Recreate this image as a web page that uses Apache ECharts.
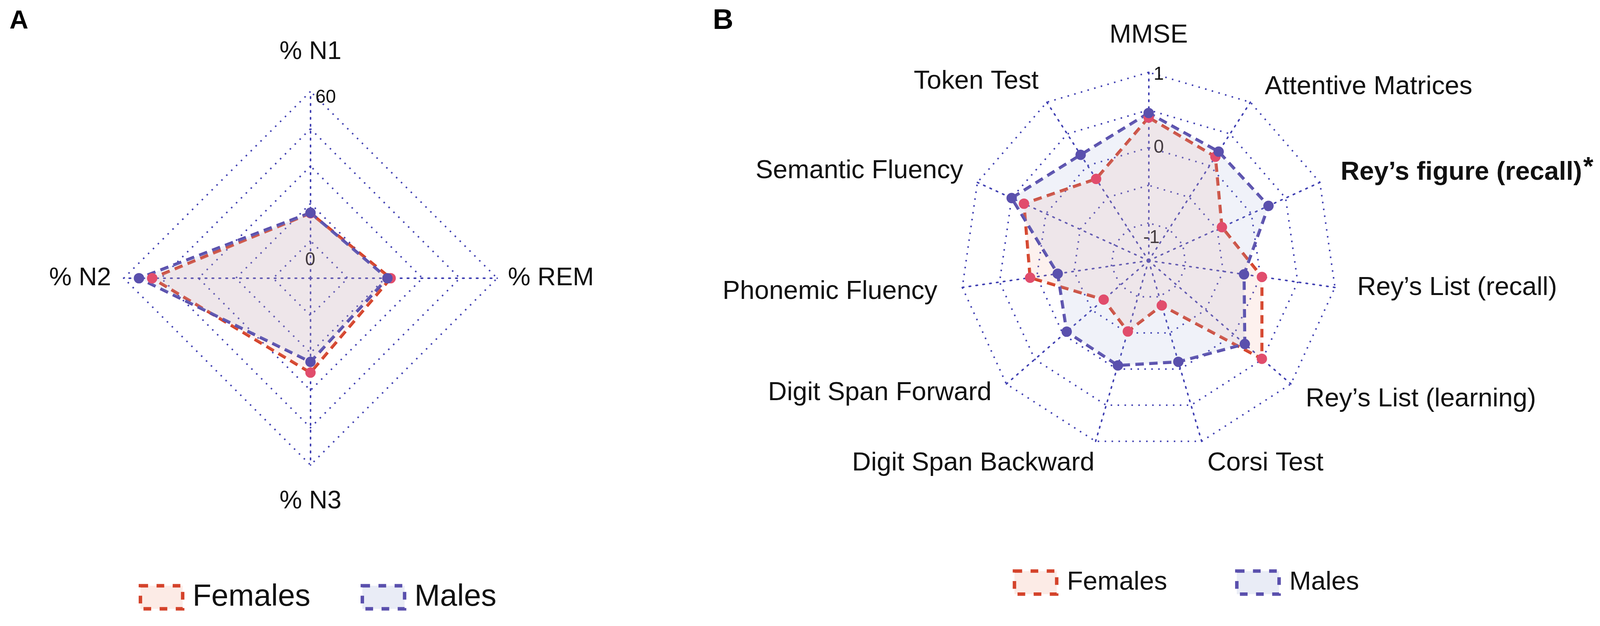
<!DOCTYPE html>
<html><head><meta charset="utf-8">
<script src="https://cdn.jsdelivr.net/npm/echarts/dist/echarts.min.js"></script>
<style>html,body{margin:0;padding:0;background:#fff;overflow:hidden}#c{width:100vw;height:100vh}</style>
</head><body><div id="c"></div>
<script>
// Panel A: sleep architecture (%)
const sleepAxes = ['% N1', '% N2', '% N3', '% REM'];
const sleepFemales = [11.1, 48.6, 22.9, 17.2];
const sleepMales = [11.3, 53.9, 18.6, 15.9];
const sleepMin = -15, sleepMax = 60;
const sleepTickLabels = [0, 60];

// Panel B: cognitive z-scores
const cogAxes = ['MMSE', 'Token Test', 'Semantic Fluency', 'Phonemic Fluency', 'Digit Span Forward',
  'Digit Span Backward', 'Corsi Test', 'Rey’s List (learning)', 'Rey’s List (recall)',
  'Rey’s figure (recall)', 'Attentive Matrices'];
const cogFemales = [0.40, -0.21, 0.32, 0.09, -0.71, -0.52, -0.88, 0.49, 0.02, -0.43, 0.14];
const cogMales = [0.46, 0.17, 0.50, -0.28, -0.06, -0.05, -0.10, 0.19, -0.22, 0.25, 0.22];
const cogMin = -1.5, cogMax = 1;
const cogTickLabels = [-1, 0, 1];
const cogSignificant = ['Rey’s figure (recall)'];

const groups = ['Females', 'Males'];

// ---- layout / style (reference frame 4236 x 1602) ----
const el = document.getElementById('c');
const chart = echarts.init(el, null, { renderer: 'canvas' });
const W = chart.getWidth(), H = chart.getHeight();
const sx = W / 4236, sy = H / 1602, s = (sx + sy) / 2;
const X = v => v * sx, Y = v => v * sy, S = v => v * s;

const FONT = '"Liberation Sans", Arial, sans-serif';
const gridColor = '#3f3fb2';
const grp = {
  Females: { line: '#d4432b', point: '#e14d6c', fill: 'rgba(245,165,145,0.22)', legendFill: '#fcebe6' },
  Males: { line: '#5a50ad', point: '#5a50ad', fill: 'rgba(155,170,218,0.22)', legendFill: '#e9ecf6' }
};
// per-axis name padding [top, right, bottom, left] (label placement tweaks)
const sleepNamePad = [[0, 0, 60, 0], [0, 23, 0, 0], [52, 0, 0, 0], [0, 0, 0, 18]];
const cogNamePad = [[0, 0, 52, 0], [0, 16, 92, 0], [0, 28, 52, 0], [20, 55, 0, 0], [34, 31, 0, 0],
  [96, 0, 0, 0], [96, 0, 0, 12], [66, 0, 0, 31], [0, 0, 0, 48], [12, 0, 56, 45], [0, 0, 62, 32]];
// per-tick-label padding [top, left]
const sleepTickPad = [[100, 0], [32, 27]];
const cogTickPad = [[78, 0], [0, 27], [12, 27]];

function indicators(names, min, max) {
  return names.map((n, i) => i === 0
    ? { name: n, min: min, max: max, axisLabel: { show: true } }
    : { name: n, min: min, max: max });
}
function radarBase(center, radius, nameSize, names, pads, bold, ticks, tickPads) {
  const rich = {};
  names.forEach((n, i) => {
    rich['n' + i] = {
      fontSize: S(nameSize), fontFamily: FONT, color: '#111',
      fontWeight: bold.indexOf(n) >= 0 ? 'bold' : 'normal',
      verticalAlign: 'top',
      padding: pads[i].map(S)
    };
  });
  rich.s = { fontSize: S(nameSize), fontFamily: FONT, color: '#111', fontWeight: 'bold', verticalAlign: 'top', padding: [0, 0, 0, S(3)] };
  const tickRich = {};
  ticks.forEach((t, i) => {
    tickRich['t' + i] = { fontSize: S(48), fontFamily: FONT, color: '#111', padding: [S(tickPads[i][0]), 0, 0, S(tickPads[i][1])] };
  });
  return {
    center: [X(center[0]), Y(center[1])], radius: S(radius), startAngle: 90, splitNumber: 5, shape: 'polygon',
    axisName: {
      color: '#111', fontSize: S(nameSize), fontFamily: FONT, rich: rich,
      formatter: function (name) {
        const i = names.indexOf(name);
        return '{n' + i + '|' + name + '}' + (bold.indexOf(name) >= 0 ? '{s|*}' : '');
      }
    },
    nameGap: S(10),
    splitLine: { lineStyle: { color: gridColor, width: S(4), type: [S(4), S(14)] } },
    splitArea: { show: false },
    axisLine: { lineStyle: { color: gridColor, width: S(4), type: [S(4), S(14)] } },
    axisTick: { show: false },
    axisLabel: {
      show: false, color: '#111', fontSize: S(48), fontFamily: FONT, margin: S(14), align: 'left', rich: tickRich,
      formatter: v => {
        const r = Math.round(v * 1000) / 1000;
        const k = ticks.indexOf(r);
        return k >= 0 ? '{t' + k + '|' + r + '}' : '';
      }
    }
  };
}
function seriesData(f, m) {
  return [f, m].map((vals, i) => {
    const g = groups[i], st = grp[g];
    return {
      name: g, value: vals, symbol: 'circle', symbolSize: S(27),
      itemStyle: { color: st.point },
      lineStyle: { color: st.line, width: S(8), type: [S(22), S(14)] },
      areaStyle: { color: st.fill }
    };
  });
}
function legendCfg(left, top, fontSize, gap, textPad) {
  return {
    left: X(left), top: Y(top), itemWidth: S(110), itemHeight: S(60), itemGap: X(gap), icon: 'rect',
    selectedMode: false,
    textStyle: { fontSize: S(fontSize), fontFamily: FONT, color: '#111', padding: [0, 0, 0, X(textPad)] },
    data: groups.map(g => ({
      name: g,
      itemStyle: { color: grp[g].legendFill, borderColor: grp[g].line, borderWidth: S(9), borderType: [S(20), S(22)] }
    }))
  };
}

const option = {
  backgroundColor: '#fff',
  animation: false,
  title: [
    { text: 'A', left: X(20), top: Y(16), textStyle: { fontSize: S(68), fontWeight: 'bold', fontFamily: FONT, color: '#000' } },
    { text: 'B', left: X(1882), top: Y(12), textStyle: { fontSize: S(74), fontWeight: 'bold', fontFamily: FONT, color: '#000' } }
  ],
  legend: [legendCfg(362, 1484, 80, 133, 21), legendCfg(2676, 1452, 68, 180, 22)],
  radar: [
    Object.assign(radarBase([822, 712], 486, 66, sleepAxes, sleepNamePad, [], sleepTickLabels, sleepTickPad),
      { indicator: indicators(sleepAxes, sleepMin, sleepMax) }),
    Object.assign(radarBase([3041, 667], 490, 68, cogAxes, cogNamePad, cogSignificant, cogTickLabels, cogTickPad),
      { indicator: indicators(cogAxes, cogMin, cogMax) })
  ],
  series: [
    { type: 'radar', radarIndex: 0, data: seriesData(sleepFemales, sleepMales) },
    { type: 'radar', radarIndex: 1, data: seriesData(cogFemales, cogMales) }
  ]
};
chart.setOption(option);
</script></body></html>
